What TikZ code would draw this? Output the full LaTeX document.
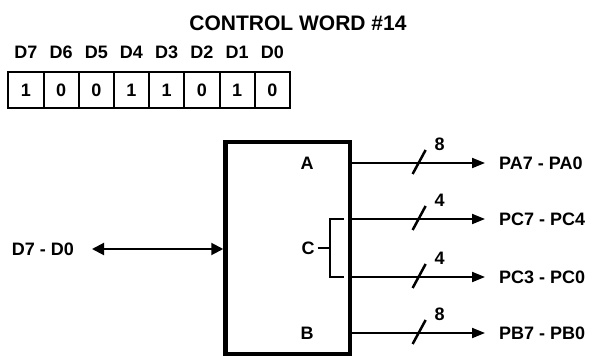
\documentclass[tikz,border=0pt]{standalone}
\usepackage{fontspec}
\setsansfont{Liberation Sans}
\usetikzlibrary{arrows.meta,positioning,calc}
\definecolor{ink}{HTML}{000000}
\tikzset{
  every node/.style={font=\sffamily\bfseries, text=ink, inner sep=0pt},
  title/.style={font=\sffamily\bfseries\fontsize{21}{25}\selectfont},
  sig/.style={font=\sffamily\bfseries\fontsize{18}{21}\selectfont},
  bitcell/.style={sig, draw=ink, line width=2pt, minimum width=35.2pt, minimum height=36pt},
  chip/.style={draw=ink, line width=4.5pt, minimum width=124.5pt, minimum height=212pt},
  wire/.style={draw=ink, line width=2pt},
  slash/.style={draw=ink, line width=2.5pt},
  busarrow/.style={-{Triangle[length=13pt,width=10pt]}, line width=2pt, draw=ink},
  dataarrow/.style={{Triangle[length=12pt,width=12pt]}-{Triangle[length=12pt,width=12pt]}, line width=2pt, draw=ink},
}
\begin{document}
\begin{tikzpicture}[x=1pt,y=-1pt]
\useasboundingbox (0,0) rectangle (592,356);
\node[title] (cw) at (298,23) {CONTROL WORD \#14};
\foreach \bit [count=\i from 0] in {1,0,0,1,1,0,1,0} {
  \pgfmathtruncatemacro\d{7-\i}
  \node[bitcell] (b\i) at (25.9+35.2*\i,90) {\bit};
  \node[sig, above=12pt of b\i] (h\i) {D\d};
}
\node[chip] (ppi) at (287.75,248) {};
\node[sig] (pA) at (307,163) {A};
\node[sig] (pC) at (308,248) {C};
\node[sig] (pB) at (307,333) {B};
\coordinate (cup) at (344,219);
\coordinate (clow) at (344,277);
\coordinate (cmid) at (330,248);
\draw[wire] (cup) -| (cmid) |- (clow);
\draw[wire] ([xshift=3pt]pC.east) -- (cmid);
\node[sig, anchor=west] (pa) at (499,163) {PA7 - PA0};
\node[sig, anchor=west] (pch) at (499,219) {PC7 - PC4};
\node[sig, anchor=west] (pcl) at (499,277) {PC3 - PC0};
\node[sig, anchor=west] (pb) at (499,333) {PB7 - PB0};
\foreach \src/\dst/\n in {pA/pa/8, cup/pch/4, clow/pcl/4, pB/pb/8} {
  \draw[busarrow] (ppi.east |- \src) -- ([xshift=-14pt]\dst.west) coordinate[pos=0.5] (m);
  \draw[slash] ($(m)+(-6,11)$) -- ($(m)+(7,-13)$);
  \node[sig] (w\dst) at ($(m)+(21,-19)$) {\n};
}
\node[sig, anchor=east] (dbus) at (74,249) {D7 - D0};
\draw[dataarrow] ([xshift=18pt]dbus.east) -- (ppi.west |- dbus);
\end{tikzpicture}
\end{document}
